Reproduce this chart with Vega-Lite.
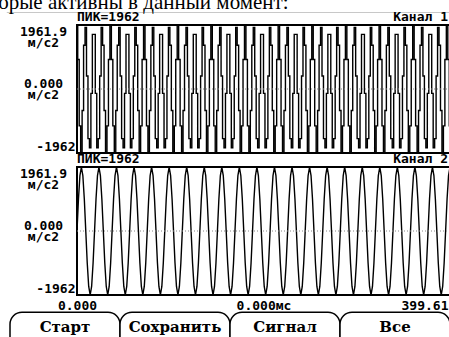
{
  "$schema": "https://vega.github.io/schema/vega-lite/v6.json",
  "background": "white",
  "padding": {"left": -30, "top": -8, "right": 0, "bottom": 0},
  "title": {"text": "которые активны в данный момент:", "anchor": "start", "frame": "group", "dx": -107, "offset": -3, "font": "Liberation Serif", "fontSize": 21, "fontWeight": "normal", "color": "black"},
  "bounds": "flush",
  "spacing": 14,
  "config": {
    "view": {"stroke": "black", "strokeWidth": 2},
    "axis": {"labelFont": "DejaVu Sans Mono", "labelFontWeight": "bold", "labelFontSize": 13, "labelColor": "black", "ticks": false, "domain": false, "grid": false, "title": null, "labelOverlap": false, "labelBound": false}
  },
  "datasets": {
    "sig": [
      {"k":0,"c1":1962,"c2":0},{"k":1,"c1":903,"c2":981},{"k":2,"c1":-1131,"c2":1699},{"k":3,"c1":-1944,"c2":1962},{"k":4,"c1":-657,"c2":1699},{"k":5,"c1":1339,"c2":981},{"k":6,"c1":1889,"c2":0},{"k":7,"c1":399,"c2":-981},
      {"k":8,"c1":-1522,"c2":-1699},{"k":9,"c1":-1800,"c2":-1962},{"k":10,"c1":-134,"c2":-1699},{"k":11,"c1":1676,"c2":-981},{"k":12,"c1":1676,"c2":0},{"k":13,"c1":-134,"c2":981},{"k":14,"c1":-1800,"c2":1699},{"k":15,"c1":-1522,"c2":1962},
      {"k":16,"c1":399,"c2":1699},{"k":17,"c1":1889,"c2":981},{"k":18,"c1":1339,"c2":0},{"k":19,"c1":-657,"c2":-981},{"k":20,"c1":-1944,"c2":-1699},{"k":21,"c1":-1131,"c2":-1962},{"k":22,"c1":903,"c2":-1699},{"k":23,"c1":1962,"c2":-981},
      {"k":24,"c1":903,"c2":0},{"k":25,"c1":-1131,"c2":981},{"k":26,"c1":-1944,"c2":1699},{"k":27,"c1":-657,"c2":1962},{"k":28,"c1":1339,"c2":1699},{"k":29,"c1":1889,"c2":981},{"k":30,"c1":399,"c2":0},{"k":31,"c1":-1522,"c2":-981},
      {"k":32,"c1":-1800,"c2":-1699},{"k":33,"c1":-134,"c2":-1962},{"k":34,"c1":1676,"c2":-1699},{"k":35,"c1":1676,"c2":-981},{"k":36,"c1":-134,"c2":0},{"k":37,"c1":-1800,"c2":981},{"k":38,"c1":-1522,"c2":1699},{"k":39,"c1":399,"c2":1962},
      {"k":40,"c1":1889,"c2":1699},{"k":41,"c1":1339,"c2":981},{"k":42,"c1":-657,"c2":0},{"k":43,"c1":-1944,"c2":-981},{"k":44,"c1":-1131,"c2":-1699},{"k":45,"c1":903,"c2":-1962},{"k":46,"c1":1962,"c2":-1699},{"k":47,"c1":903,"c2":-981},
      {"k":48,"c1":-1131,"c2":0},{"k":49,"c1":-1944,"c2":981},{"k":50,"c1":-657,"c2":1699},{"k":51,"c1":1339,"c2":1962},{"k":52,"c1":1889,"c2":1699},{"k":53,"c1":399,"c2":981},{"k":54,"c1":-1522,"c2":0},{"k":55,"c1":-1800,"c2":-981},
      {"k":56,"c1":-134,"c2":-1699},{"k":57,"c1":1676,"c2":-1962},{"k":58,"c1":1676,"c2":-1699},{"k":59,"c1":-134,"c2":-981},{"k":60,"c1":-1800,"c2":0},{"k":61,"c1":-1522,"c2":981},{"k":62,"c1":399,"c2":1699},{"k":63,"c1":1889,"c2":1962},
      {"k":64,"c1":1339,"c2":1699},{"k":65,"c1":-657,"c2":981},{"k":66,"c1":-1944,"c2":0},{"k":67,"c1":-1131,"c2":-981},{"k":68,"c1":903,"c2":-1699},{"k":69,"c1":1962,"c2":-1962},{"k":70,"c1":903,"c2":-1699},{"k":71,"c1":-1131,"c2":-981},
      {"k":72,"c1":-1944,"c2":0},{"k":73,"c1":-657,"c2":981},{"k":74,"c1":1339,"c2":1699},{"k":75,"c1":1889,"c2":1962},{"k":76,"c1":399,"c2":1699},{"k":77,"c1":-1522,"c2":981},{"k":78,"c1":-1800,"c2":0},{"k":79,"c1":-134,"c2":-981},
      {"k":80,"c1":1676,"c2":-1699},{"k":81,"c1":1676,"c2":-1962},{"k":82,"c1":-134,"c2":-1699},{"k":83,"c1":-1800,"c2":-981},{"k":84,"c1":-1522,"c2":0},{"k":85,"c1":399,"c2":981},{"k":86,"c1":1889,"c2":1699},{"k":87,"c1":1339,"c2":1962},
      {"k":88,"c1":-657,"c2":1699},{"k":89,"c1":-1944,"c2":981},{"k":90,"c1":-1131,"c2":0},{"k":91,"c1":903,"c2":-981},{"k":92,"c1":1962,"c2":-1699},{"k":93,"c1":903,"c2":-1962},{"k":94,"c1":-1131,"c2":-1699},{"k":95,"c1":-1944,"c2":-981},
      {"k":96,"c1":-657,"c2":0},{"k":97,"c1":1339,"c2":981},{"k":98,"c1":1889,"c2":1699},{"k":99,"c1":399,"c2":1962},{"k":100,"c1":-1522,"c2":1699},{"k":101,"c1":-1800,"c2":981},{"k":102,"c1":-134,"c2":0},{"k":103,"c1":1676,"c2":-981},
      {"k":104,"c1":1676,"c2":-1699},{"k":105,"c1":-134,"c2":-1962},{"k":106,"c1":-1800,"c2":-1699},{"k":107,"c1":-1522,"c2":-981},{"k":108,"c1":399,"c2":0},{"k":109,"c1":1889,"c2":981},{"k":110,"c1":1339,"c2":1699},{"k":111,"c1":-657,"c2":1962},
      {"k":112,"c1":-1944,"c2":1699},{"k":113,"c1":-1131,"c2":981},{"k":114,"c1":903,"c2":0},{"k":115,"c1":1962,"c2":-981},{"k":116,"c1":903,"c2":-1699},{"k":117,"c1":-1131,"c2":-1962},{"k":118,"c1":-1944,"c2":-1699},{"k":119,"c1":-657,"c2":-981},
      {"k":120,"c1":1339,"c2":0},{"k":121,"c1":1889,"c2":981},{"k":122,"c1":399,"c2":1699},{"k":123,"c1":-1522,"c2":1962},{"k":124,"c1":-1800,"c2":1699},{"k":125,"c1":-134,"c2":981},{"k":126,"c1":1676,"c2":0},{"k":127,"c1":1676,"c2":-981},
      {"k":128,"c1":-134,"c2":-1699},{"k":129,"c1":-1800,"c2":-1962},{"k":130,"c1":-1522,"c2":-1699},{"k":131,"c1":399,"c2":-981},{"k":132,"c1":1889,"c2":0},{"k":133,"c1":1339,"c2":981},{"k":134,"c1":-657,"c2":1699},{"k":135,"c1":-1944,"c2":1962},
      {"k":136,"c1":-1131,"c2":1699},{"k":137,"c1":903,"c2":981},{"k":138,"c1":1962,"c2":0},{"k":139,"c1":903,"c2":-981},{"k":140,"c1":-1131,"c2":-1699},{"k":141,"c1":-1944,"c2":-1962},{"k":142,"c1":-657,"c2":-1699},{"k":143,"c1":1339,"c2":-981},
      {"k":144,"c1":1889,"c2":0},{"k":145,"c1":399,"c2":981},{"k":146,"c1":-1522,"c2":1699},{"k":147,"c1":-1800,"c2":1962},{"k":148,"c1":-134,"c2":1699},{"k":149,"c1":1676,"c2":981},{"k":150,"c1":1676,"c2":0},{"k":151,"c1":-134,"c2":-981},
      {"k":152,"c1":-1800,"c2":-1699},{"k":153,"c1":-1522,"c2":-1962},{"k":154,"c1":399,"c2":-1699},{"k":155,"c1":1889,"c2":-981},{"k":156,"c1":1339,"c2":0},{"k":157,"c1":-657,"c2":981},{"k":158,"c1":-1944,"c2":1699},{"k":159,"c1":-1131,"c2":1962},
      {"k":160,"c1":903,"c2":1699},{"k":161,"c1":1962,"c2":981},{"k":162,"c1":903,"c2":0},{"k":163,"c1":-1131,"c2":-981},{"k":164,"c1":-1944,"c2":-1699},{"k":165,"c1":-657,"c2":-1962},{"k":166,"c1":1339,"c2":-1699},{"k":167,"c1":1889,"c2":-981},
      {"k":168,"c1":399,"c2":0},{"k":169,"c1":-1522,"c2":981},{"k":170,"c1":-1800,"c2":1699},{"k":171,"c1":-134,"c2":1962},{"k":172,"c1":1676,"c2":1699},{"k":173,"c1":1676,"c2":981},{"k":174,"c1":-134,"c2":0},{"k":175,"c1":-1800,"c2":-981},
      {"k":176,"c1":-1522,"c2":-1699},{"k":177,"c1":399,"c2":-1962},{"k":178,"c1":1889,"c2":-1699},{"k":179,"c1":1339,"c2":-981},{"k":180,"c1":-657,"c2":0},{"k":181,"c1":-1944,"c2":981},{"k":182,"c1":-1131,"c2":1699},{"k":183,"c1":903,"c2":1962},
      {"k":184,"c1":1962,"c2":1699},{"k":185,"c1":903,"c2":981},{"k":186,"c1":-1131,"c2":0},{"k":187,"c1":-1944,"c2":-981},{"k":188,"c1":-657,"c2":-1699},{"k":189,"c1":1339,"c2":-1962},{"k":190,"c1":1889,"c2":-1699},{"k":191,"c1":399,"c2":-981},
      {"k":192,"c1":-1522,"c2":0},{"k":193,"c1":-1800,"c2":981},{"k":194,"c1":-134,"c2":1699},{"k":195,"c1":1676,"c2":1962},{"k":196,"c1":1676,"c2":1699},{"k":197,"c1":-134,"c2":981},{"k":198,"c1":-1800,"c2":0},{"k":199,"c1":-1522,"c2":-981},
      {"k":200,"c1":399,"c2":-1699},{"k":201,"c1":1889,"c2":-1962},{"k":202,"c1":1339,"c2":-1699},{"k":203,"c1":-657,"c2":-981},{"k":204,"c1":-1944,"c2":0},{"k":205,"c1":-1131,"c2":981},{"k":206,"c1":903,"c2":1699},{"k":207,"c1":1962,"c2":1962},
      {"k":208,"c1":903,"c2":1699},{"k":209,"c1":-1131,"c2":981},{"k":210,"c1":-1944,"c2":0},{"k":211,"c1":-657,"c2":-981},{"k":212,"c1":1339,"c2":-1699},{"k":213,"c1":1889,"c2":-1962},{"k":214,"c1":399,"c2":-1699},{"k":215,"c1":-1522,"c2":-981},
      {"k":216,"c1":-1800,"c2":0},{"k":217,"c1":-134,"c2":981},{"k":218,"c1":1676,"c2":1699},{"k":219,"c1":1676,"c2":1962},{"k":220,"c1":-134,"c2":1699},{"k":221,"c1":-1800,"c2":981},{"k":222,"c1":-1522,"c2":0},{"k":223,"c1":399,"c2":-981},
      {"k":224,"c1":1889,"c2":-1699},{"k":225,"c1":1339,"c2":-1962},{"k":226,"c1":-657,"c2":-1699},{"k":227,"c1":-1944,"c2":-981},{"k":228,"c1":-1131,"c2":0},{"k":229,"c1":903,"c2":981},{"k":230,"c1":1962,"c2":1699},{"k":231,"c1":903,"c2":1962},
      {"k":232,"c1":-1131,"c2":1699},{"k":233,"c1":-1944,"c2":981},{"k":234,"c1":-657,"c2":0},{"k":235,"c1":1339,"c2":-981},{"k":236,"c1":1889,"c2":-1699},{"k":237,"c1":399,"c2":-1962},{"k":238,"c1":-1522,"c2":-1699},{"k":239,"c1":-1800,"c2":-981},
      {"k":240,"c1":-134,"c2":0},{"k":241,"c1":1676,"c2":981},{"k":242,"c1":1676,"c2":1699},{"k":243,"c1":-134,"c2":1962},{"k":244,"c1":-1800,"c2":1699},{"k":245,"c1":-1522,"c2":981},{"k":246,"c1":399,"c2":0},{"k":247,"c1":1889,"c2":-981},
      {"k":248,"c1":1339,"c2":-1699},{"k":249,"c1":-657,"c2":-1962},{"k":250,"c1":-1944,"c2":-1699},{"k":251,"c1":-1131,"c2":-981},{"k":252,"c1":903,"c2":0},{"k":253,"c1":1962,"c2":981},{"k":254,"c1":903,"c2":1699},{"k":255,"c1":-1131,"c2":1962}
    ]
  },
  "vconcat": [
    {
      "width": 373,
      "height": 128,
      "data": {"name": "sig"},
      "layer": [
        {
          "mark": {"type": "line", "interpolate": "step", "color": "black", "strokeWidth": 1.4},
          "encoding": {
            "x": {"field": "k", "type": "quantitative", "scale": {"domain": [0, 255], "nice": false, "zero": false}, "axis": null},
            "y": {"field": "c1", "type": "quantitative", "scale": {"domain": [-1962, 1962], "nice": false},
              "axis": {"values": [1962, 0, -1962], "labelExpr": "datum.value > 0 ? ['1961.9','м/с2'] : datum.value == 0 ? ['0.000','м/с2'] : '-1962'", "labelAlign": {"condition": {"test": "datum.value < 0", "value": "right"}, "value": "center"}, "labelPadding": {"condition": {"test": "datum.value < 0", "value": 2}, "value": 34}, "labelFlush": true, "labelLineHeight": 11, "labelOffset": {"condition": {"test": "datum.value == 0", "value": -6}, "value": 0}}}
          }
        },
        {
          "data": {"values": [{}]},
          "mark": {"type": "rule", "color": "#888888", "strokeDash": [1, 2], "strokeWidth": 1},
          "encoding": {"y": {"datum": 0}}
        },
        {
          "data": {"values": [{}]},
          "mark": {"type": "rule", "color": "#c8c8c8", "strokeWidth": 1},
          "encoding": {"x": {"datum": -48}, "x2": {"datum": 258}, "y": {"datum": 2345}}
        },
        {
          "data": {"values": [{"t": "ПИК=1962"}]},
          "mark": {"type": "text", "align": "left", "baseline": "bottom", "dy": -1, "font": "DejaVu Sans Mono", "fontWeight": "bold", "fontSize": 13, "color": "black"},
          "encoding": {"x": {"datum": 0}, "y": {"datum": 1962}, "text": {"field": "t"}}
        },
        {
          "data": {"values": [{"t": "Канал  1"}]},
          "mark": {"type": "text", "align": "right", "baseline": "bottom", "dy": -1, "dx": -2, "font": "DejaVu Sans Mono", "fontWeight": "bold", "fontSize": 13, "color": "black"},
          "encoding": {"x": {"datum": 255}, "y": {"datum": 1962}, "text": {"field": "t"}}
        }
      ]
    },
    {
      "width": 373,
      "height": 128,
      "data": {"name": "sig"},
      "layer": [
        {
          "mark": {"type": "line", "interpolate": "linear", "color": "black", "strokeWidth": 1.4},
          "encoding": {
            "x": {"field": "k", "type": "quantitative", "scale": {"domain": [0, 255], "nice": false, "zero": false},
              "axis": {"values": [0, 127.5, 255], "labelExpr": "datum.value == 0 ? '0.000' : datum.value < 200 ? '0.000мс' : '399.61'", "labelFlush": false, "labelPadding": 4, "labelAlign": {"condition": {"test": "datum.value > 200", "value": "right"}, "value": "center"}, "labelOffset": {"condition": {"test": "datum.value > 200", "value": -2}, "value": 0}}},
            "y": {"field": "c2", "type": "quantitative", "scale": {"domain": [-1962, 1962], "nice": false},
              "axis": {"values": [1962, 0, -1962], "labelExpr": "datum.value > 0 ? ['1961.9','м/с2'] : datum.value == 0 ? ['0.000','м/с2'] : '-1962'", "labelAlign": {"condition": {"test": "datum.value < 0", "value": "right"}, "value": "center"}, "labelPadding": {"condition": {"test": "datum.value < 0", "value": 2}, "value": 34}, "labelFlush": true, "labelLineHeight": 11, "labelOffset": {"condition": {"test": "datum.value == 0", "value": -6}, "value": 0}}}
          }
        },
        {
          "data": {"values": [{}]},
          "mark": {"type": "rule", "color": "#888888", "strokeDash": [1, 2], "strokeWidth": 1},
          "encoding": {"y": {"datum": 0}}
        },
        {
          "data": {"values": [{"t": "ПИК=1962"}]},
          "mark": {"type": "text", "align": "left", "baseline": "bottom", "dy": -1, "font": "DejaVu Sans Mono", "fontWeight": "bold", "fontSize": 13, "color": "black"},
          "encoding": {"x": {"datum": 0}, "y": {"datum": 1962}, "text": {"field": "t"}}
        },
        {
          "data": {"values": [{"t": "Канал  2"}]},
          "mark": {"type": "text", "align": "right", "baseline": "bottom", "dy": -1, "dx": -2, "font": "DejaVu Sans Mono", "fontWeight": "bold", "fontSize": 13, "color": "black"},
          "encoding": {"x": {"datum": 255}, "y": {"datum": 1962}, "text": {"field": "t"}}
        }
      ]
    },
    {
      "width": 373,
      "height": 32,
      "view": {"stroke": null},
      "data": {"values": [{"b": "Старт"}, {"b": "Сохранить"}, {"b": "Сигнал"}, {"b": "Все"}]},
      "encoding": {
        "x": {"field": "b", "type": "nominal", "sort": null, "scale": {"range": [-67, 373], "paddingInner": 0, "paddingOuter": 0}, "axis": null}
      },
      "layer": [
        {
          "mark": {"type": "bar", "fill": "white", "stroke": "black", "strokeWidth": 1.5, "cornerRadiusTopLeft": 12, "cornerRadiusTopRight": 12},
          "encoding": {"y": {"datum": 0.9, "scale": {"domain": [0, 1]}, "axis": null}, "y2": {"datum": 0}}
        },
        {
          "mark": {"type": "text", "font": "DejaVu Serif", "fontWeight": "bold", "fontSize": 15, "color": "black", "baseline": "middle"},
          "encoding": {"y": {"datum": 0.45}, "text": {"field": "b"}}
        }
      ]
    }
  ]
}
